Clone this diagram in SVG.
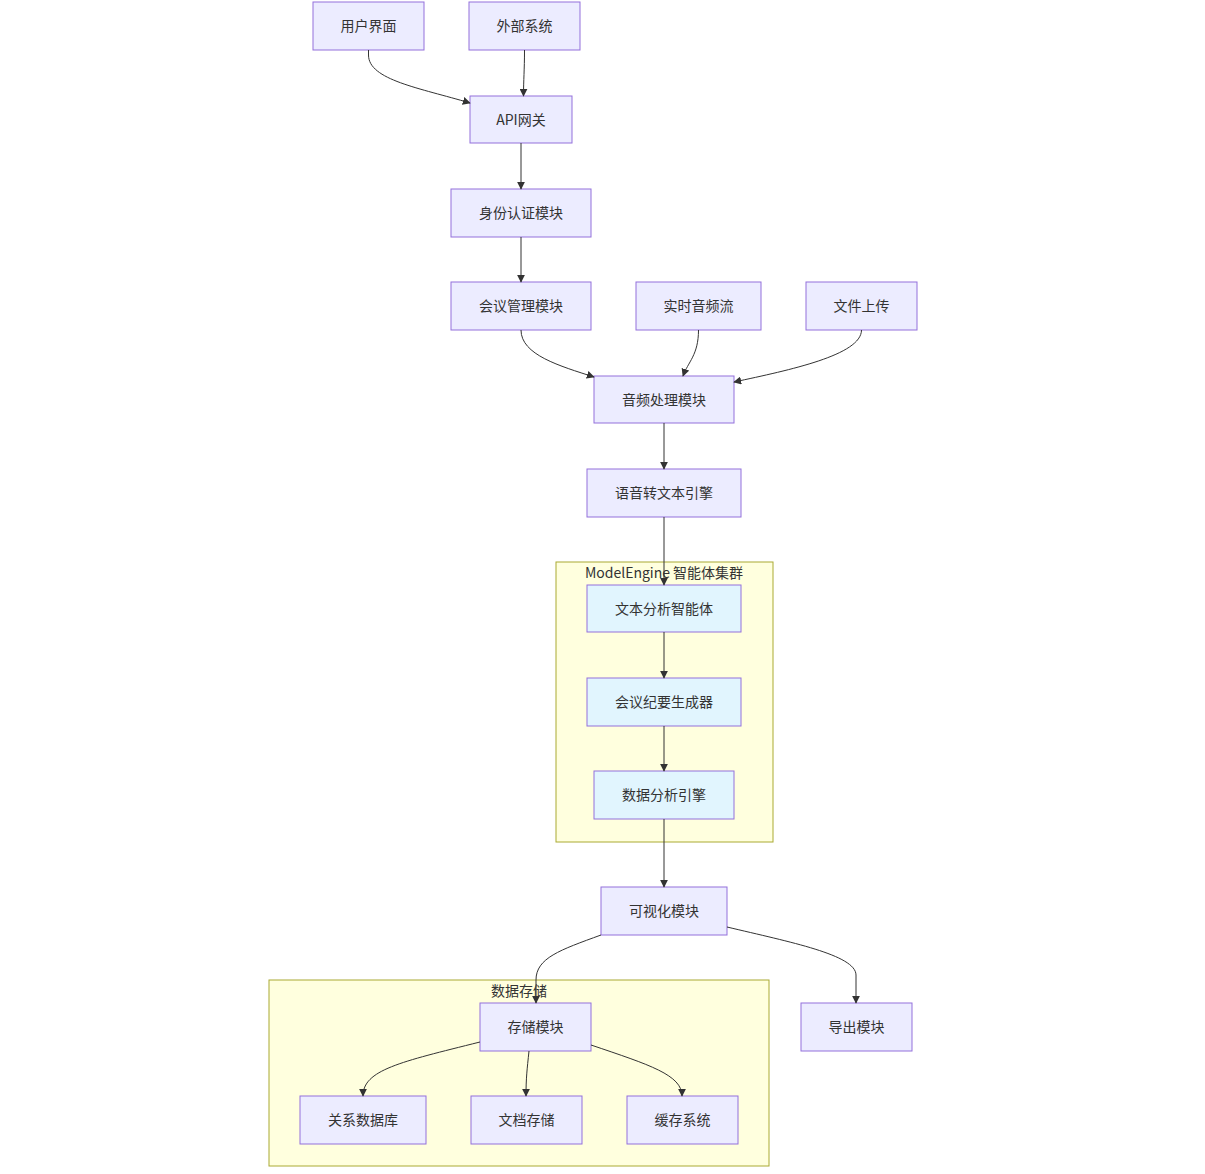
<svg xmlns="http://www.w3.org/2000/svg" width="1205" height="1174" viewBox="0 0 1205 1174">
<defs>
<marker id="arr" viewBox="0 0 10 10" refX="9" refY="5" markerWidth="8" markerHeight="8" markerUnits="userSpaceOnUse" orient="auto">
<path d="M0,0 L10,5 L0,10 z" fill="#333"/>
</marker>
<style>
.n rect{fill:#ECECFF;stroke:#9370DB;stroke-width:1}
.a rect{fill:#e1f5fe;stroke:#9370DB;stroke-width:1}
.c rect{fill:#ffffde;stroke:#aaaa33;stroke-width:1}
text{font-family:"Noto Sans CJK SC","Liberation Sans",sans-serif;font-size:14px;fill:#333;text-anchor:middle;dominant-baseline:central}
.e path{fill:none;stroke:#333;stroke-width:1;marker-end:url(#arr)}
</style>
</defs>
<rect width="1205" height="1174" fill="#fff"/>
<g id="cluster-model" class="c"><rect x="556" y="562" width="217" height="280"/><text x="664" y="572">ModelEngine 智能体集群</text></g>
<g id="cluster-storage" class="c"><rect x="269" y="980" width="500" height="186"/><text x="519" y="990">数据存储</text></g>
<g id="n-ui" class="n"><rect x="313" y="2" width="111" height="48"/><text x="368.5" y="24.5">用户界面</text></g>
<g id="n-ext" class="n"><rect x="469" y="2" width="111" height="48"/><text x="524.5" y="24.5">外部系统</text></g>
<g id="n-api" class="n"><rect x="470" y="96" width="102" height="47"/><text x="521" y="118.5">API网关</text></g>
<g id="n-auth" class="n"><rect x="451" y="189" width="140" height="48"/><text x="521" y="211.5">身份认证模块</text></g>
<g id="n-meet" class="n"><rect x="451" y="282" width="140" height="48"/><text x="521" y="304.5">会议管理模块</text></g>
<g id="n-rt" class="n"><rect x="636" y="282" width="125" height="48"/><text x="698.5" y="304.5">实时音频流</text></g>
<g id="n-up" class="n"><rect x="806" y="282" width="111" height="48"/><text x="861.5" y="304.5">文件上传</text></g>
<g id="n-audio" class="n"><rect x="594" y="376" width="140" height="47"/><text x="664" y="398.5">音频处理模块</text></g>
<g id="n-stt" class="n"><rect x="587" y="469" width="154" height="48"/><text x="664" y="491.5">语音转文本引擎</text></g>
<g id="n-txt" class="a"><rect x="587" y="585" width="154" height="47"/><text x="664" y="607.5">文本分析智能体</text></g>
<g id="n-min" class="a"><rect x="587" y="678" width="154" height="48"/><text x="664" y="700.5">会议纪要生成器</text></g>
<g id="n-data" class="a"><rect x="594" y="771" width="140" height="48"/><text x="664" y="793.5">数据分析引擎</text></g>
<g id="n-vis" class="n"><rect x="601" y="887" width="126" height="48"/><text x="664" y="909.5">可视化模块</text></g>
<g id="n-store" class="n"><rect x="480" y="1003" width="111" height="48"/><text x="535.5" y="1025.5">存储模块</text></g>
<g id="n-exp" class="n"><rect x="801" y="1003" width="111" height="48"/><text x="856.5" y="1025.5">导出模块</text></g>
<g id="n-rdb" class="n"><rect x="300" y="1096" width="126" height="48"/><text x="363" y="1118.5">关系数据库</text></g>
<g id="n-doc" class="n"><rect x="471" y="1096" width="111" height="48"/><text x="526.5" y="1118.5">文档存储</text></g>
<g id="n-cache" class="n"><rect x="627" y="1096" width="111" height="48"/><text x="682.5" y="1118.5">缓存系统</text></g>
<g id="edges" class="e">
<path d="M368.5,50 V55 C368.5,80 420,88 470,103"/>
<path d="M524.5,50 C524.5,70 523.5,80 523.5,96"/>
<path d="M521,143 V189"/>
<path d="M521,237 V282"/>
<path d="M521,330 C521,355 560,366 594,377"/>
<path d="M698.5,330 C698.5,355 688,362 683,376"/>
<path d="M861.5,330 C861.5,355 790,370 734,382"/>
<path d="M664,423 V469"/>
<path d="M664,517 V585"/>
<path d="M664,632 V678"/>
<path d="M664,726 V771"/>
<path d="M664,819 V887"/>
<path d="M601,935 C560,950 536,958 536,980 V1003"/>
<path d="M727,927 C790,942 856,955 856,975 V1003"/>
<path d="M480,1042 C400,1062 363,1070 363,1096"/>
<path d="M529,1051 C527,1070 526,1078 526,1096"/>
<path d="M591,1045 C650,1065 682,1075 682,1096"/>
</g>
</svg>
